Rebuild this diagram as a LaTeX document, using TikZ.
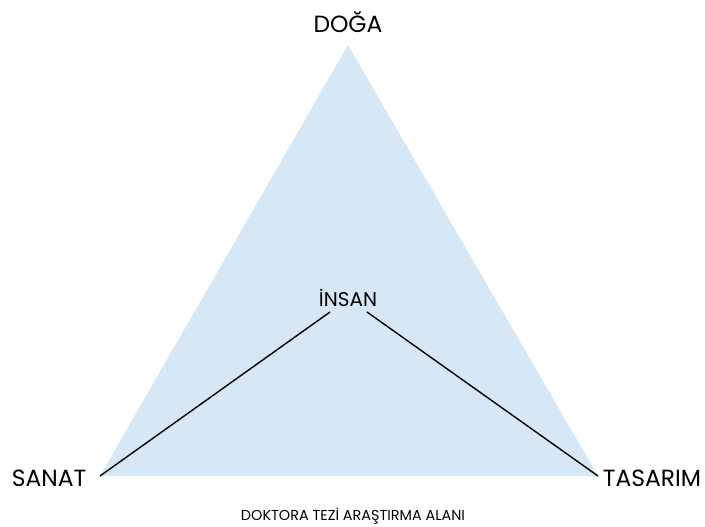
\documentclass[tikz,border=0pt]{standalone}
\usepackage{fontspec}
\setmainfont{Poppins}
\usetikzlibrary{positioning}
\usepackage{xcolor}
\definecolor{alanblue}{RGB}{214,232,245}

\begin{document}
\begin{tikzpicture}[x=0.03cm, y=-0.03cm,
  corner/.style={font=\fontsize{20}{23}\selectfont, inner sep=0pt},
  mid/.style={font=\fontsize{17}{20}\selectfont, inner sep=0pt},
  caption/.style={font=\fontsize{12.3}{14}\selectfont, inner sep=0pt},
  link/.style={line width=1.2pt, black}
]
\useasboundingbox (0,0) rectangle (705,526);
% triangle vertices
\coordinate (top)   at (348,45);
\coordinate (left)  at (100,476);
\coordinate (right) at (598,476);
\fill[alanblue] (top) -- (left) -- (right) -- cycle;

\node[corner]  (doga)    at (348,22)  {DOĞA};
\node[corner]  (sanat)   at (49,478)  {SANAT};
\node[corner]  (tasarim) at (652,478) {TASARIM};
\node[mid]     (insan)   at (348,298) {İNSAN};
\node[caption] (alan)    at (353,516) {DOKTORA TEZİ ARAŞTIRMA ALANI};

\coordinate (insanL) at (330,312);
\coordinate (insanR) at (367,312);
\draw[link] (insanL) -- (left);
\draw[link] (insanR) -- (right);
\end{tikzpicture}
\end{document}
